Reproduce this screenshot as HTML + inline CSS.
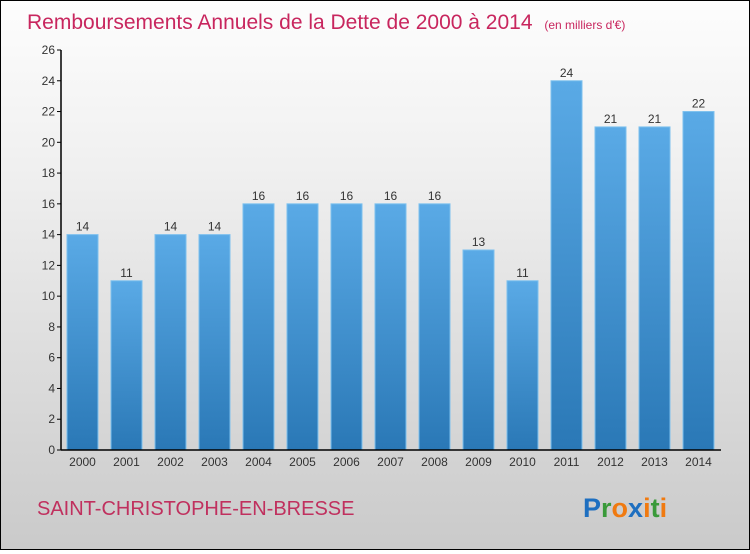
<!DOCTYPE html>
<html><head><meta charset="utf-8"><style>
body{margin:0;width:750px;height:550px;overflow:hidden;font-family:"Liberation Sans",sans-serif}
#wrap{position:absolute;left:0;top:0;width:748px;height:548px;border:1px solid #000;background:linear-gradient(#fdfdfd,#f0f0f0 30%,#cacaca)}
</style></head><body>
<div id="wrap">
<svg id="svg" width="748" height="548" xmlns="http://www.w3.org/2000/svg">
<defs><linearGradient id="bg" x1="0" y1="0" x2="0" y2="1"><stop offset="0" stop-color="#5aaae6"/><stop offset="1" stop-color="#2a78b6"/></linearGradient></defs>
<text x="26" y="28" font-size="21" fill="#c8265e">Remboursements Annuels de la Dette de 2000 à 2014 <tspan font-size="12" dx="6">(en milliers d'€)</tspan></text>
<text x="36" y="514" font-size="20" fill="#c0305e">SAINT-CHRISTOPHE-EN-BRESSE</text>
<text x="582" y="516" font-size="27" font-weight="bold"><tspan fill="#1e6fc0">P</tspan><tspan fill="#3a9a3a">r</tspan><tspan fill="#f07a10">o</tspan><tspan fill="#1e6fc0">x</tspan><tspan fill="#f07a10">i</tspan><tspan fill="#3a9a3a">t</tspan><tspan fill="#f07a10">i</tspan></text>
<g id="plot"></g>
</svg></div>
<script>
const categories=["2000","2001","2002","2003","2004","2005","2006","2007","2008","2009","2010","2011","2012","2013","2014"];
const values=[14,11,14,14,16,16,16,16,16,13,11,24,21,21,22];
const yTicks=[0,2,4,6,8,10,12,14,16,18,20,22,24,26];
const NS="http://www.w3.org/2000/svg";
const g=document.getElementById('plot');
const y0=449,y1=49,yMax=26,x0=60,x1=720,step=44,bw=31,first=66;
const yS=v=>y0-(v/yMax)*(y0-y1);
const xS=i=>first+i*step;
function mk(t,a,txt){const e=document.createElementNS(NS,t);for(const k in a)e.setAttribute(k,a[k]);if(txt!==undefined)e.textContent=txt;g.appendChild(e);return e;}
yTicks.forEach(t=>{
 const l=mk('line',{x1:x0-4,x2:x0,y1:yS(t),y2:yS(t),stroke:'#000'});
 
 
 const tx=mk('text',{x:x0-6,y:yS(t)+4,'font-size':12,'text-anchor':'end',fill:'#333'},t);
 
 
});
values.forEach((v,i)=>{
 const r=mk('rect',{x:xS(i),y:yS(v),width:bw,height:y0-yS(v),fill:'url(#bg)',stroke:'#7cc0ee','stroke-width':1});
 
 
 const t=mk('text',{x:xS(i)+bw/2,y:yS(v)-4,'font-size':12,'text-anchor':'middle',fill:'#333'},v);
 
 
 const c=mk('text',{x:xS(i)+bw/2,y:y0+16,'font-size':12,'text-anchor':'middle',fill:'#333'},categories[i]);
 
 
});
const ya=mk('line',{x1:x0,x2:x0,y1:y1,y2:y0,stroke:'#000','stroke-width':1.5});


const xa=mk('line',{x1:x0,x2:x1,y1:y0,y2:y0,stroke:'#000','stroke-width':1.5});


</script>
</body></html>
